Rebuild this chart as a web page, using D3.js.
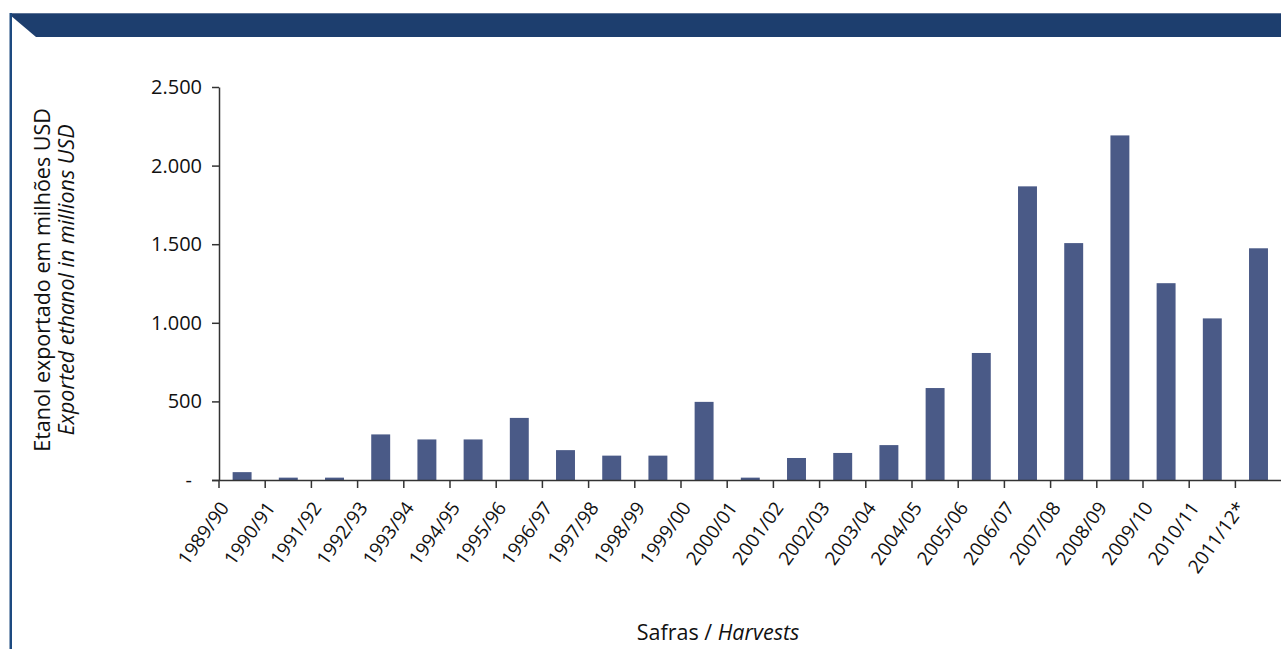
<!DOCTYPE html>
<html>
<head>
<meta charset="utf-8">
<script src="https://cdn.jsdelivr.net/npm/d3@7"></script>
<style>
  html, body { margin: 0; padding: 0; background: #ffffff; }
  svg { display: block; font-family: "Open Sans", "Noto Sans", sans-serif; }
</style>
</head>
<body>
<div id="chart"></div>
<script>
// safras (harvest years)
const categories = ["1989/90", "1990/91", "1991/92", "1992/93", "1993/94", "1994/95", "1995/96",
  "1996/97", "1997/98", "1998/99", "1999/00", "2000/01", "2001/02", "2002/03", "2003/04",
  "2004/05", "2005/06", "2006/07", "2007/08", "2008/09", "2009/10", "2010/11", "2011/12*"];

// etanol exportado, milhoes USD
const values = [50, 15, 15, 290, 258, 258, 395, 190, 155, 155, 497, 15, 140, 172, 222,
  585, 808, 1868, 1507, 2192, 1252, 1028, 1474];

const yTicks = [0, 500, 1000, 1500, 2000, 2500];

const width = 1281;
const height = 649;
const font = '"Open Sans", "Noto Sans", sans-serif';

const svg = d3.select('#chart')
  .append('svg')
  .attr('width', width)
  .attr('height', height);

// header band + left border
svg.append('path')
  .attr('d', 'M10,13 L1281,13 L1281,37 L36,37 L10,15 Z')
  .attr('fill', '#1d3e6e');
svg.append('line')
  .attr('x1', 10).attr('x2', 1281).attr('y1', 13.5).attr('y2', 13.5)
  .attr('stroke', '#5d7396').attr('stroke-width', 1);
svg.append('rect')
  .attr('x', 9.5).attr('y', 13).attr('width', 2.5).attr('height', height - 13)
  .attr('fill', '#1d4a80');

const x = d3.scaleBand()
  .domain(categories)
  .range([219, 1281.6])
  .paddingInner(0.59)
  .paddingOuter(0.295);

const y = d3.scaleLinear()
  .domain([0, 2500])
  .range([480, 87]);

const fmt = d3.formatLocale({ decimal: ',', thousands: '.', grouping: [3], currency: ['', ''] }).format(',');

// bars
svg.append('g')
  .selectAll('rect')
  .data(values)
  .enter()
  .append('rect')
  .attr('x', (d, i) => x(categories[i]))
  .attr('y', d => y(d))
  .attr('width', x.bandwidth())
  .attr('height', d => y(0) - y(d))
  .attr('fill', '#4a5a87');

// y axis
const yAxis = svg.append('g')
  .attr('transform', 'translate(219,0)')
  .call(d3.axisLeft(y).tickValues(yTicks).tickSize(7).tickSizeOuter(0).tickPadding(10)
    .tickFormat(d => d === 0 ? '-' : fmt(d)))
  .attr('font-family', font)
  .attr('font-size', 20);
yAxis.select('.domain').attr('stroke', '#333').attr('stroke-width', 1.5);
yAxis.selectAll('.tick line').attr('stroke', '#333').attr('stroke-width', 1.5);
yAxis.selectAll('.tick text')
  .attr('fill', '#111')
  .attr('dx', d => d === 0 ? -10 : 0);

// x axis, ticks on band boundaries
const half = x.step() * x.paddingInner() / 2;
const xAxis = svg.append('g')
  .attr('transform', 'translate(0,480)')
  .call(d3.axisBottom(x).tickSize(8).tickSizeOuter(0))
  .attr('font-family', font)
  .attr('font-size', 19);
xAxis.select('.domain').attr('d', 'M212,0.5H1281').attr('stroke', '#333').attr('stroke-width', 1.5);
xAxis.selectAll('.tick')
  .attr('transform', d => `translate(${x(d) - half},0)`);
xAxis.selectAll('.tick line').attr('stroke', '#333').attr('stroke-width', 1.5);
xAxis.selectAll('.tick text')
  .attr('fill', '#111')
  .attr('text-anchor', 'end')
  .attr('dy', null)
  .attr('y', 0)
  .attr('transform', 'translate(11,28) rotate(-54)');

// axis titles
const yTitle = svg.append('text')
  .attr('transform', 'translate(0,280) rotate(-90)')
  .attr('text-anchor', 'middle')
  .attr('fill', '#111')
  .style('font-size', '21.5px');
yTitle.append('tspan').attr('x', 0).attr('y', 50).text('Etanol exportado em milhões USD');
yTitle.append('tspan').attr('x', 0).attr('y', 74).style('font-style', 'italic').text('Exported ethanol in millions USD');

const xTitle = svg.append('text')
  .attr('x', 718)
  .attr('y', 640)
  .attr('text-anchor', 'middle')
  .attr('fill', '#111')
  .style('font-size', '21.5px');
xTitle.append('tspan').text('Safras / ');
xTitle.append('tspan').style('font-style', 'italic').text('Harvests');
</script>
</body>
</html>
